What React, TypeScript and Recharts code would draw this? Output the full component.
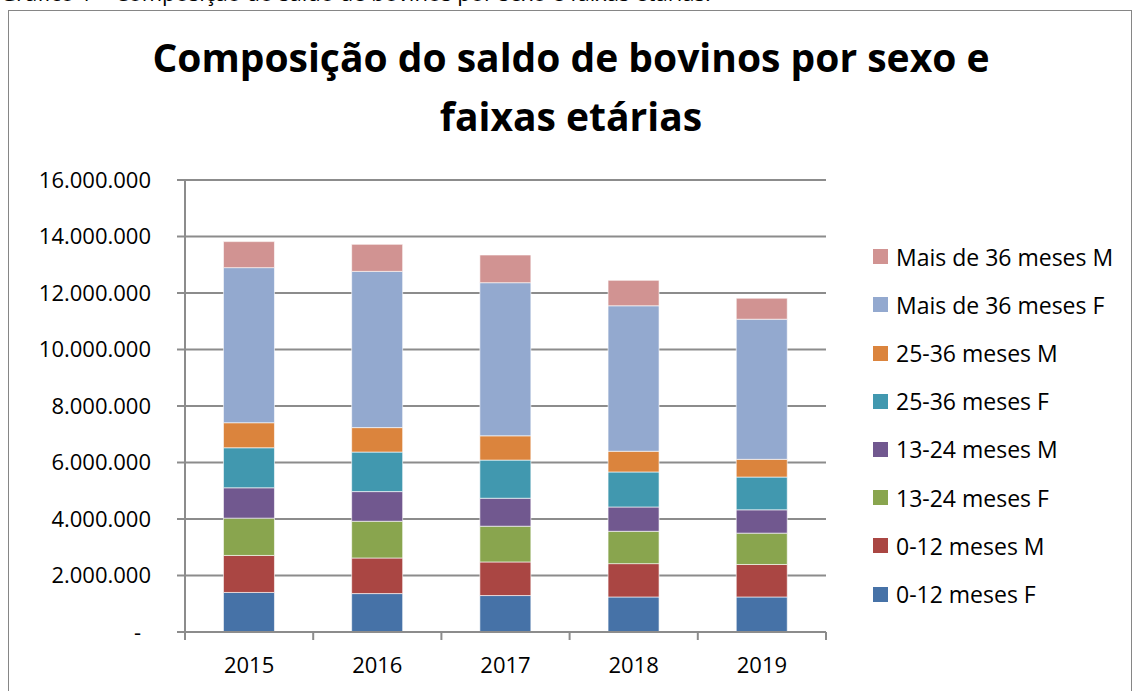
import { BarChart, Bar, XAxis, YAxis, CartesianGrid } from 'recharts'

const years = ['2015', '2016', '2017', '2018', '2019']
const f0to12 = [1400000, 1360000, 1290000, 1240000, 1240000]
const m0to12 = [1310000, 1260000, 1190000, 1180000, 1150000]
const f13to24 = [1320000, 1300000, 1265000, 1145000, 1110000]
const m13to24 = [1075000, 1050000, 990000, 860000, 825000]
const f25to36 = [1417000, 1400000, 1350000, 1240000, 1160000]
const m25to36 = [886000, 865000, 860000, 733000, 627000]
const f36plus = [5490000, 5530000, 5420000, 5150000, 4960000]
const m36plus = [921000, 957000, 980000, 900000, 744000]
const yTicks = [0, 2000000, 4000000, 6000000, 8000000, 10000000, 12000000, 14000000, 16000000]

const series = [
  { key: 'f0to12', name: '0-12 meses F', values: f0to12, color: '#4672A7' },
  { key: 'm0to12', name: '0-12 meses M', values: m0to12, color: '#AA4643' },
  { key: 'f13to24', name: '13-24 meses F', values: f13to24, color: '#89A54E' },
  { key: 'm13to24', name: '13-24 meses M', values: m13to24, color: '#71588F' },
  { key: 'f25to36', name: '25-36 meses F', values: f25to36, color: '#4198AF' },
  { key: 'm25to36', name: '25-36 meses M', values: m25to36, color: '#DB843D' },
  { key: 'f36plus', name: 'Mais de 36 meses F', values: f36plus, color: '#93A9CF' },
  { key: 'm36plus', name: 'Mais de 36 meses M', values: m36plus, color: '#D19392' },
]

const chartData = years.map((year, i) => {
  const row: Record<string, string | number> = { year }
  series.forEach((s) => {
    row[s.key] = s.values[i]
  })
  return row
})

const FONT = '"Open Sans", sans-serif'
const GRID = '#8c8c8c'

function formatNumber(v: number) {
  if (v === 0) return '-'
  return String(v).replace(/\B(?=(\d{3})+(?!\d))/g, '.')
}

function YTick(props: any) {
  const { x, y, payload } = props
  const isZero = payload.value === 0
  return (
    <text
      x={isZero ? x - 10 : x}
      y={y}
      dy="0.355em"
      textAnchor="end"
      fontFamily={FONT}
      fontSize={22}
      fill="#000"
    >
      {formatNumber(payload.value)}
    </text>
  )
}

function XTick(props: any) {
  const { x, y, payload, index, visibleTicksCount } = props
  const half = payload.offset || 64
  const last = index === (visibleTicksCount ?? 5) - 1
  return (
    <g>
      <line x1={x - half} x2={x - half} y1={y} y2={y + 8} stroke={GRID} strokeWidth={2} />
      {last && <line x1={x + half} x2={x + half} y1={y} y2={y + 8} stroke={GRID} strokeWidth={2} />}
      <text x={x} y={y + 41} textAnchor="middle" fontFamily={FONT} fontSize={22} fill="#000">
        {payload.value}
      </text>
    </g>
  )
}

function SeriesLegend() {
  const items = [...series].reverse()
  return (
    <div
      style={{
        position: 'absolute',
        left: 873,
        top: 232.6,
        fontFamily: FONT,
        fontSize: 23,
        color: '#000',
      }}
    >
      {items.map((item) => (
        <div
          key={item.key}
          style={{ height: 48.2, display: 'flex', alignItems: 'center', whiteSpace: 'nowrap' }}
        >
          <span
            style={{
              display: 'inline-block',
              width: 15,
              height: 15,
              background: item.color,
              marginRight: 8,
            }}
          />
          <span>{item.name}</span>
        </div>
      ))}
    </div>
  )
}

export default function App() {
  return (
    <div
      style={{
        position: 'absolute',
        left: 0,
        top: 0,
        width: 1132,
        height: 691,
        overflow: 'hidden',
        background: '#fff',
      }}
    >
      <div
        style={{
          position: 'absolute',
          left: 0,
          top: -23,
          fontFamily: FONT,
          fontSize: 22,
          lineHeight: '30px',
          whiteSpace: 'nowrap',
          color: '#000',
        }}
      >
        Gráfico 1 – Composição do saldo de bovinos por sexo e faixas etárias.
      </div>
      <div
        style={{
          position: 'absolute',
          left: 8,
          top: 10,
          width: 1122,
          height: 700,
          border: '1px solid #868686',
        }}
      />
      <div
        style={{
          position: 'absolute',
          left: 71,
          top: 27,
          width: 1000,
          textAlign: 'center',
          fontFamily: FONT,
          fontWeight: 700,
          fontSize: 39,
          lineHeight: '59px',
          color: '#000',
        }}
      >
        Composição do saldo de bovinos por sexo e
        <br />
        faixas etárias
      </div>
      <div style={{ position: 'absolute', left: 0, top: 0 }}>
        <BarChart
          width={1132}
          height={691}
          data={chartData}
          margin={{ top: 180, right: 306, bottom: 0, left: 0 }}
          barCategoryGap="30%"
        >
          <CartesianGrid vertical={false} stroke={GRID} strokeWidth={2} />
          <XAxis
            dataKey="year"
            height={59}
            axisLine={{ stroke: GRID, strokeWidth: 2 }}
            tickLine={false}
            tickSize={0}
            tickMargin={0}
            tick={<XTick />}
            interval={0}
          />
          <YAxis
            width={185}
            domain={[0, 16000000]}
            ticks={yTicks}
            interval={0}
            axisLine={{ stroke: GRID, strokeWidth: 2 }}
            tickLine={{ stroke: GRID, strokeWidth: 2 }}
            tickSize={8}
            tickMargin={26}
            tick={<YTick />}
          />
          {series.map((s) => (
            <Bar
              key={s.key}
              dataKey={s.key}
              name={s.name}
              stackId="a"
              fill={s.color}
              stroke="rgba(255,255,255,0.6)"
              strokeWidth={1}
              isAnimationActive={false}
            />
          ))}
        </BarChart>
      </div>
      <SeriesLegend />
    </div>
  )
}
